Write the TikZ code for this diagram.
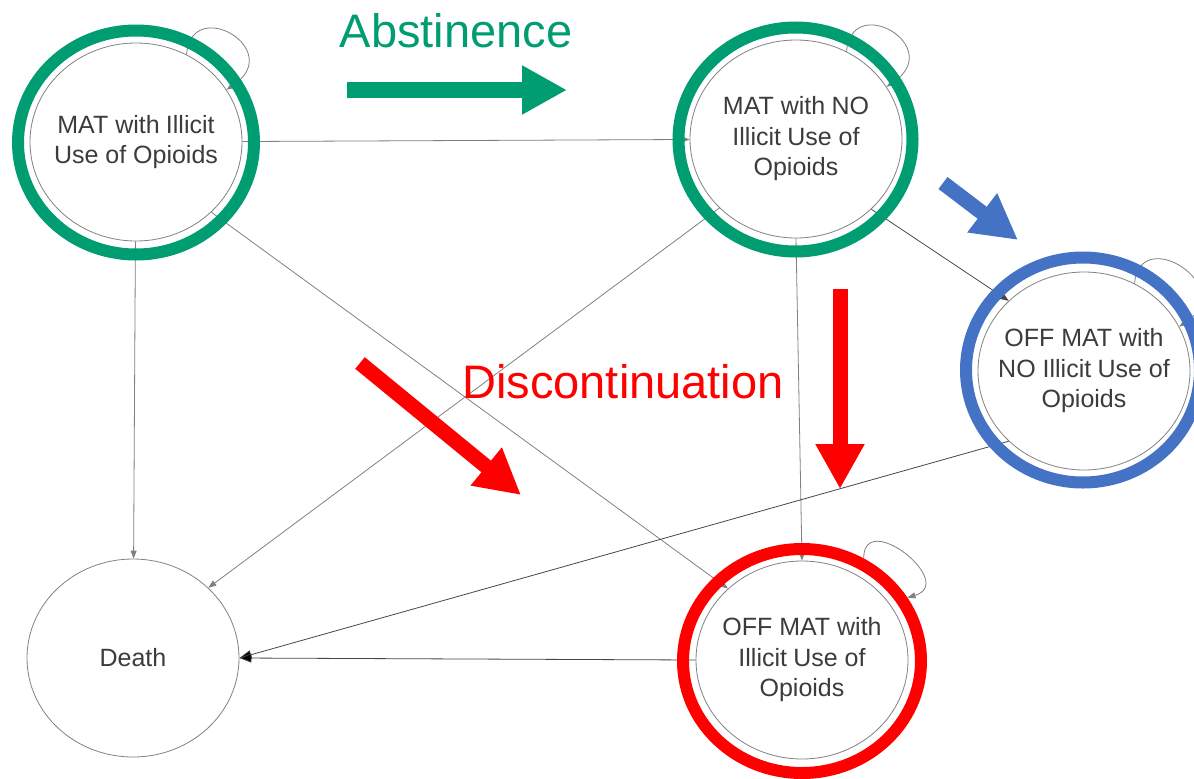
\documentclass[tikz,border=0pt]{standalone}
\usepackage{fontspec}
\setmainfont{Liberation Sans}
\usetikzlibrary{shapes.geometric,arrows.meta}
\definecolor{mgreen}{RGB}{0,156,114}
\definecolor{mblue}{RGB}{68,114,196}
\definecolor{mred}{RGB}{255,0,0}
\definecolor{circgray}{RGB}{130,130,130}
\definecolor{edgegray}{RGB}{128,128,128}
\definecolor{edgedark}{RGB}{70,70,70}
\definecolor{txtgray}{RGB}{60,60,60}
\pgfdeclarelayer{back}
\pgfsetlayers{back,main}
\newcommand{\xgap}{\hspace{0.25em}}
\begin{document}
\begin{tikzpicture}[x=1pt,y=-1pt,
  state/.style={ellipse, draw=circgray, line width=0.8pt, fill=white,
    minimum width=212pt, minimum height=198pt, inner sep=0pt},
  ringnode/.style={ellipse, line width=12pt, inner sep=0pt},
  lbl/.style={font=\fontsize{25pt}{30.5pt}\selectfont, text=txtgray, align=center, inner sep=0pt},
  edge/.style={draw=edgegray, line width=0.8pt, -{Triangle[length=8pt,width=6pt]}},
  edgedk/.style={draw=edgedark, line width=0.8pt, -{Triangle[length=9pt,width=7pt]}},
  edgeblk/.style={draw=edgedark, line width=0.8pt, -{Triangle[length=12pt,width=9pt,fill=black]}},
  bigarrow/.style={draw=#1, -{Triangle[length=45pt,width=46pt]}},
  bigtext/.style={font=\fontsize{47pt}{50pt}\selectfont, anchor=base, inner sep=0pt}
]
\useasboundingbox (0,0) rectangle (1194,779);
\clip (0,0) rectangle (1194,779);

% states
\node[state, label={[lbl]center:{MAT with\xgap Illicit\\Use of Opioids}}] (A) at (136,142) {};
\node[state, label={[lbl]center:{MAT with\xgap NO\\Illicit\xgap Use of\\Opioids}}] (B) at (796,139) {};
\node[state, label={[lbl]center:{OFF MAT with\\NO Illicit\xgap Use of\\Opioids}}] (C) at (1084,371) {};
\node[state, label={[lbl]center:{Death}}] (D) at (133,658) {};
\node[state, label={[lbl]center:{OFF MAT with\\Illicit\xgap Use of\\Opioids}}] (E) at (802,660) {};

% coloured rings
\node[ringnode, draw=mgreen, minimum width=236pt, minimum height=224pt] (Ar) at (136,142.5) {};
\node[ringnode, draw=mgreen, minimum width=234pt, minimum height=224pt] (Br) at (795.5,139.5) {};
\node[ringnode, draw=mblue, minimum width=234pt, minimum height=225pt] (Cr) at (1083,370) {};
\node[ringnode, draw=mred, minimum width=238pt, minimum height=224pt] (Er) at (802,661) {};

\begin{pgfonlayer}{back}
% transitions
\draw[edge] (A) -- (B);
\draw[edge] (A) -- (D);
\draw[edge] (A.-43) -- (E.136);
\draw[edge] (B.222) -- (D.43);
\draw[edge] (B.south) -- (E.north);
\draw[edgedk] (B.-43) -- (C.137);
\draw[edgeblk] (C.-137) -- (D.east);
\draw[edgeblk] (E.west) -- (D.east);
% self loops
\draw[edge] (A.60) .. controls +(5,-60) and +(60,-40) .. (A.30);
\draw[edge] (B.60) .. controls +(5,-60) and +(60,-40) .. (B.30);
\draw[edge] (C.60) .. controls +(5,-60) and +(60,-40) .. (C.25);
\draw[edge] (Er.59) .. controls +(0,-50) and +(50,-15) .. (Er.31);
\end{pgfonlayer}

% big block arrows
\coordinate (g1) at (347,90);   \coordinate (g2) at (567,90);
\coordinate (b1) at (943,183);  \coordinate (b2) at (1018,240);
\coordinate (r1) at (360,363);  \coordinate (r2) at (521,495);
\coordinate (v1) at (840,289);  \coordinate (v2) at (840,489);
\draw[bigarrow=mgreen, line width=16pt] (g1) -- (g2);
\draw[bigarrow=mblue, line width=15pt] (b1) -- (b2);
\draw[bigarrow=mred, line width=15pt] (r1) -- (r2);
\draw[bigarrow=mred, line width=15pt] (v1) -- (v2);

% captions
\node[bigtext, text=mgreen] (abs) at (456,47) {Abstinence};
\node[bigtext, text=mred] (disc) at (623,398) {Discontinuation};
\end{tikzpicture}
\end{document}
